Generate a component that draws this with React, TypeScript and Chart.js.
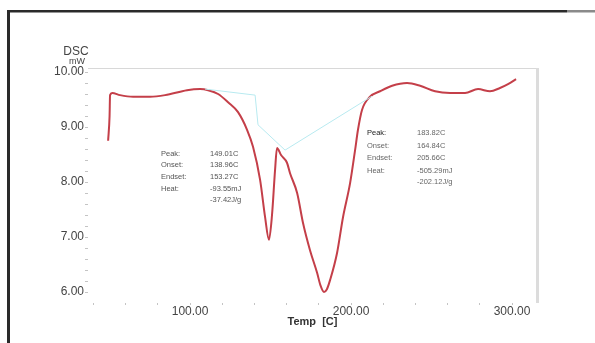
import React, { useEffect, useRef } from "react";
import { Chart, registerables } from "chart.js";

Chart.register(...registerables);

// DSC curve (temperature in C, heat flow in mW)
const temps = [
  49.1, 50.0, 50.3, 51.6, 56.5, 64.6, 75.2, 84.5, 98.1, 106.2, 111.2, 117.4,
  123.6, 129.8, 135.4, 139.1, 143.5, 146.6, 149.0, 150.9, 152.8, 154.0, 156.5,
  160.2, 162.1, 166.5, 170.2, 174.5, 178.9, 181.0, 183.2, 185.0, 187.0, 191.3,
  195.0, 199.4, 202.5, 204.3, 206.8, 211.8, 218.0, 225.5, 234.8, 242.9, 252.2,
  261.5, 270.8, 278.9, 286.3, 292.5, 297.5, 302.5,
];
const dscValues = [
  8.75, 9.2, 9.58, 9.62, 9.58, 9.55, 9.55, 9.58, 9.67, 9.69, 9.67, 9.6,
  9.45, 9.27, 8.95, 8.64, 8.04, 7.36, 6.95, 7.4, 8.22, 8.62, 8.49,
  8.35, 8.16, 7.8, 7.25, 6.76, 6.35, 6.12, 6.0, 6.05, 6.22, 6.71,
  7.36, 7.98, 8.58, 8.95, 9.31, 9.55, 9.65, 9.75, 9.8, 9.75, 9.65,
  9.62, 9.62, 9.69, 9.65, 9.71, 9.78, 9.87,
];

// Baseline / tangent construction lines
const baselineTemps = [109.3, 140.4, 142.2, 159.0, 213.0];
const baselineValues = [9.69, 9.58, 9.04, 8.58, 9.56];

// Axes
const xTickValues = [40, 60, 80, 100, 120, 140, 160, 180, 200, 220, 240, 260, 280, 300];
const xLabelValues = [100, 200, 300];
const yTickValues = [
  6.0, 6.2, 6.4, 6.6, 6.8, 7.0, 7.2, 7.4, 7.6, 7.8, 8.0, 8.2, 8.4, 8.6, 8.8,
  9.0, 9.2, 9.4, 9.6, 9.8, 10.0,
];
const yLabelValues = [6, 7, 8, 9, 10];

// Peak annotations
const peak1Labels = ["Peak:", "Onset:", "Endset:", "Heat:", ""];
const peak1Values = ["149.01C", "138.96C", "153.27C", "-93.55mJ", "-37.42J/g"];
const peak2Labels = ["Peak:", "Onset:", "Endset:", "Heat:", ""];
const peak2Values = ["183.82C", "164.84C", "205.66C", "-505.29mJ", "-202.12J/g"];

const FONT = "'Liberation Sans', Arial, sans-serif";

const overlayPlugin = {
  id: "dscOverlay",
  afterDraw(chart: any) {
    const ctx = chart.ctx;
    const a = chart.chartArea;
    ctx.save();
    // outer frame (dark)
    ctx.fillStyle = "#2a2a2a";
    ctx.fillRect(7, 10, 3, 343 - 10);
    ctx.fillRect(7, 10, 560, 2.5);
    ctx.fillStyle = "#8a8a8a";
    ctx.fillRect(567, 10, 28, 2.5);
    // plot top & right borders
    ctx.strokeStyle = "#d8d8d8";
    ctx.lineWidth = 1;
    ctx.beginPath();
    ctx.moveTo(a.left, a.top + 0.5);
    ctx.lineTo(a.right, a.top + 0.5);
    ctx.stroke();
    ctx.fillStyle = "#dcdcdc";
    ctx.fillRect(a.right - 1, a.top, 3, a.bottom - a.top);

    // Y title
    ctx.fillStyle = "#444";
    ctx.textAlign = "center";
    ctx.textBaseline = "middle";
    ctx.font = `12px ${FONT}`;
    ctx.fillText("DSC", 76, 52);
    ctx.font = `9px ${FONT}`;
    ctx.fillText("mW", 77, 62);

    // X title
    ctx.fillStyle = "#333";
    ctx.font = `bold 11px ${FONT}`;
    ctx.fillText("Temp  [C]", (a.left + a.right) / 2, 322);

    // annotations
    ctx.textAlign = "left";
    ctx.font = `7.5px ${FONT}`;
    const rows1 = [154, 165, 177, 189, 200];
    peak1Labels.forEach((t, i) => {
      ctx.fillStyle = "#555";
      if (t) ctx.fillText(t, 161, rows1[i]);
      ctx.fillText(peak1Values[i], 210, rows1[i]);
    });
    const rows2 = [133, 146, 158, 171, 182];
    peak2Labels.forEach((t, i) => {
      ctx.fillStyle = i === 0 ? "#222" : "#666";
      if (t) ctx.fillText(t, 367, rows2[i]);
      ctx.fillStyle = "#666";
      ctx.fillText(peak2Values[i], 417, rows2[i]);
    });
    ctx.restore();
  },
};

export default function App() {
  const ref = useRef<HTMLCanvasElement>(null);
  useEffect(() => {
    if (!ref.current) return;
    const curve = temps.map((t, i) => ({ x: t, y: dscValues[i] }));
    const base = baselineTemps.map((t, i) => ({ x: t, y: baselineValues[i] }));
    const chart = new Chart(ref.current, {
      type: "scatter",
      data: {
        datasets: [
          {
            data: base,
            showLine: true,
            borderColor: "#b8eaf0",
            borderWidth: 1,
            pointRadius: 0,
            tension: 0,
          },
          {
            data: curve,
            showLine: true,
            borderColor: "#c43f49",
            borderWidth: 2,
            pointRadius: 0,
            cubicInterpolationMode: "monotone",
          },
        ],
      },
      options: {
        animation: false,
        responsive: false,
        maintainAspectRatio: false,
        layout: { padding: { left: 0, top: 68, right: 58, bottom: 0 } },
        plugins: { legend: { display: false }, tooltip: { enabled: false } },
        scales: {
          x: {
            type: "linear",
            min: 36.6,
            max: 315.5,
            afterFit: (s: any) => {
              s.height = 40;
            },
            afterBuildTicks: (s: any) => {
              s.ticks = xTickValues.map((v) => ({ value: v }));
            },
            grid: { drawOnChartArea: false, drawTicks: true, tickLength: 2, color: "#c4c4c4" },
            border: { display: false },
            ticks: {
              autoSkip: false,
              maxRotation: 0,
              padding: -1,
              color: "#444",
              font: { family: FONT, size: 12 },
              callback: (v: any) =>
                xLabelValues.includes(Math.round(Number(v))) ? Number(v).toFixed(2) : "",
            },
          },
          y: {
            type: "linear",
            min: 5.8,
            max: 10.073,
            afterFit: (s: any) => {
              s.width = 88;
            },
            afterBuildTicks: (s: any) => {
              s.ticks = yTickValues.map((v) => ({ value: v }));
            },
            grid: { drawOnChartArea: false, drawTicks: true, tickLength: 3, color: "#c4c4c4" },
            border: { display: false },
            ticks: {
              autoSkip: false,
              padding: 1,
              color: "#444",
              font: { family: FONT, size: 12 },
              callback: (v: any) => {
                const n = Number(v);
                return yLabelValues.some((l) => Math.abs(l - n) < 1e-6) ? n.toFixed(2) : "";
              },
            },
          },
        },
      },
      plugins: [overlayPlugin],
    });
    return () => chart.destroy();
  }, []);
  return (
    <div style={{ position: "absolute", left: 0, top: 0, width: 595, height: 343, background: "#fff" }}>
      <canvas ref={ref} width={595} height={343} style={{ width: 595, height: 343, display: "block" }} />
    </div>
  );
}
